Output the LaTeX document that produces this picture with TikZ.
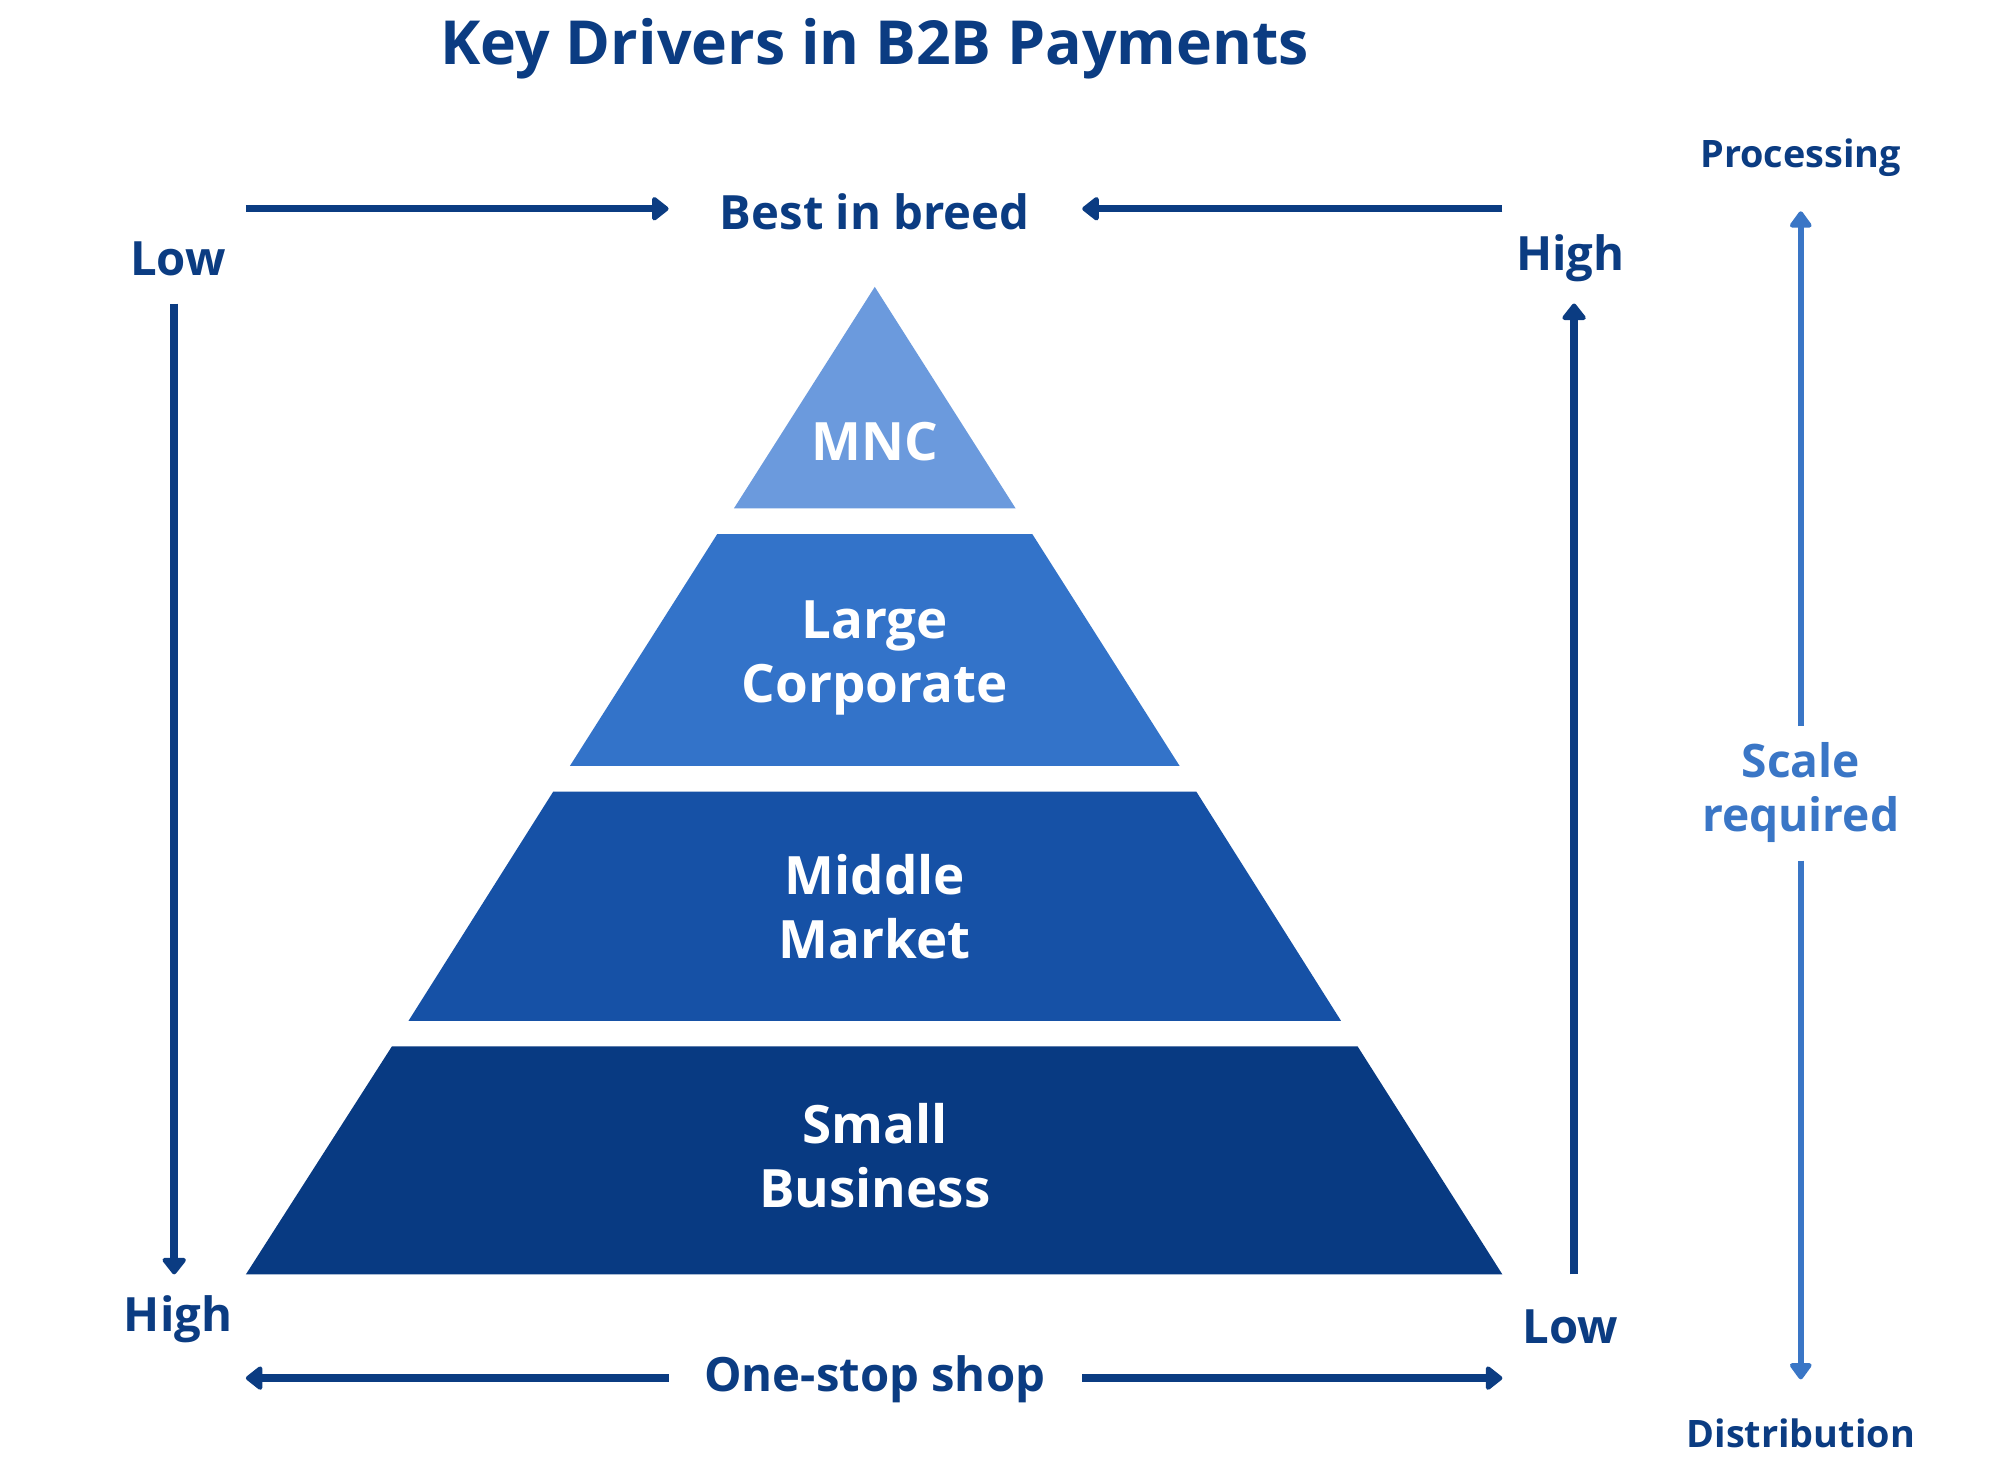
\documentclass[tikz,border=0pt]{standalone}
\usepackage{fontspec}
\setmainfont{Open Sans}
\usetikzlibrary{arrows.meta}
\definecolor{navy}{HTML}{0B3C82}
\definecolor{midblue}{HTML}{3A76C6}
\definecolor{bandA}{HTML}{6B9ADD}
\definecolor{bandB}{HTML}{3373C9}
\definecolor{bandC}{HTML}{1651A6}
\definecolor{bandD}{HTML}{083A82}
\begin{document}
\begin{tikzpicture}[x=0.02cm,y=-0.02cm,
    lbl/.style={font=\bfseries\fontsize{21}{24}\selectfont, text=navy},
    tier/.style={font=\bfseries\fontsize{23.5}{28.5}\selectfont, text=white, align=center},
    arr/.style={draw=navy, line width=3.3pt, -{Triangle[length=8pt,width=12pt,round]}},
    scalearr/.style={draw=midblue, line width=2.6pt, -{Triangle[length=8pt,width=11pt,round]}}]
    \useasboundingbox[fill=white] (0,0) rectangle (1560,1148);
    \node[font=\bfseries\fontsize{27}{32}\selectfont, text=navy] (title) at (683,38) {Key Drivers in B2B Payments};
    \fill[bandA] (683,224) -- (793,397) -- (573,397) -- cycle;
    \fill[bandB] (560,417) -- (806,417) -- (921,598) -- (445,598) -- cycle;
    \fill[bandC] (432,618) -- (934,618) -- (1047,797) -- (319,797) -- cycle;
    \fill[bandD] (306,817) -- (1060,817) -- (1173,995) -- (192,995) -- cycle;
    \node[tier] (mnc) at (683,345) {MNC};
    \node[tier] (large) at (683,514) {Large\\Corporate};
    \node[tier] (middle) at (683,708) {Middle\\Market};
    \node[tier] (small) at (683,902) {Small\\Business};
    \node[lbl] (best) at (683,165) {Best in breed};
    \node[lbl] (onestop) at (683,1077) {One-stop shop};
    \node[lbl] (lowL) at (139,202) {Low};
    \node[lbl] (highL) at (139,1030) {High};
    \node[lbl] (highR) at (1226,202) {High};
    \node[lbl] (lowR) at (1226,1036) {Low};
    \coordinate (tl) at (192,163);
    \coordinate (tlend) at (522,163);
    \coordinate (tr) at (1173,163);
    \coordinate (trend) at (845,163);
    \coordinate (bl) at (522,1076);
    \coordinate (blend) at (192,1076);
    \coordinate (br) at (845,1076);
    \coordinate (brend) at (1173,1076);
    \coordinate (lt) at (136,237);
    \coordinate (lb) at (136,995);
    \coordinate (rb) at (1229,995);
    \coordinate (rt) at (1229,237);
    \draw[arr] (tl) -- (tlend);
    \draw[arr] (tr) -- (trend);
    \draw[arr] (bl) -- (blend);
    \draw[arr] (br) -- (brend);
    \draw[arr] (lt) -- (lb);
    \draw[arr] (rb) -- (rt);
    \node[font=\bfseries\fontsize{16.8}{20}\selectfont, text=navy] (proc) at (1406,123) {Processing};
    \node[font=\bfseries\fontsize{16.8}{20}\selectfont, text=navy] (dist) at (1406,1119) {Distribution};
    \node[font=\bfseries\fontsize{20.5}{24}\selectfont, text=midblue, align=center] (scale) at (1406,619) {Scale\\required};
    \coordinate (st) at (1406,165);
    \coordinate (sb) at (1406,1077);
    \draw[scalearr] (1406,567) -- (st);
    \draw[scalearr] (1406,672) -- (sb);
\end{tikzpicture}
\end{document}
